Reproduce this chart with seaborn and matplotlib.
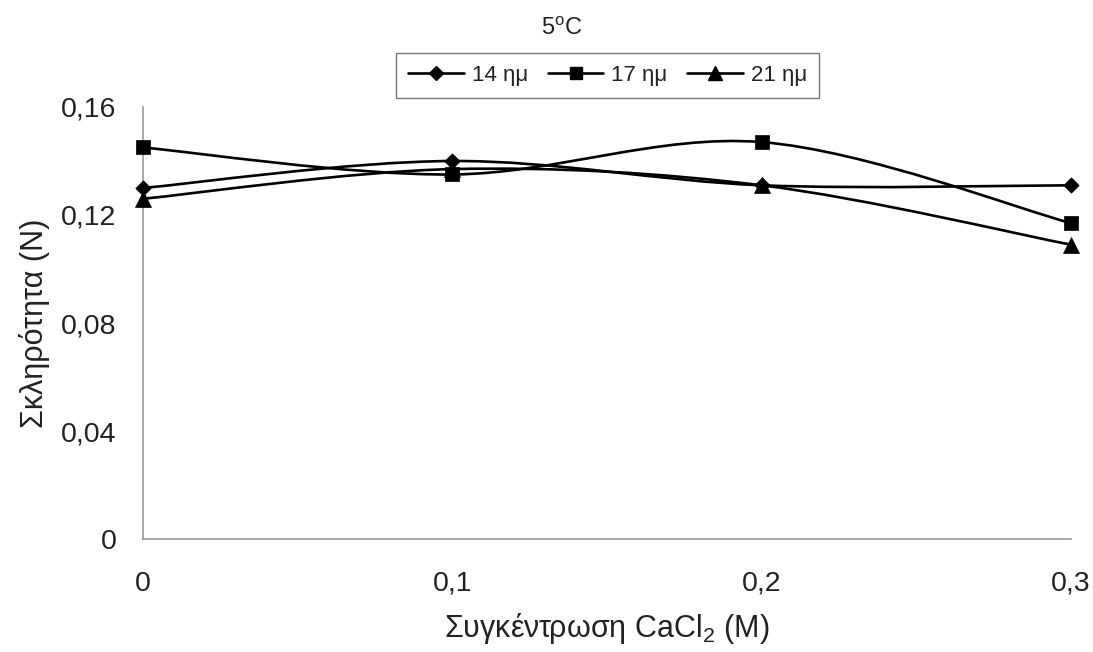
import numpy as np
import pandas as pd
import matplotlib
matplotlib.use("Agg")
import matplotlib.pyplot as plt
from matplotlib.path import Path
from matplotlib.patches import PathPatch
from matplotlib.lines import Line2D
import seaborn as sns

# ---- data ----
concentration = [0.0, 0.1, 0.2, 0.3]
series_names = ["14 ημ", "17 ημ", "21 ημ"]
values_14 = [0.130, 0.140, 0.131, 0.131]
values_17 = [0.145, 0.135, 0.147, 0.117]
values_21 = [0.126, 0.137, 0.131, 0.109]
markers = ["D", "s", "^"]
marker_sizes = [7.8, 10.0, 11.5]

x_ticks = [0.0, 0.1, 0.2, 0.3]
x_tick_labels = ["0", "0,1", "0,2", "0,3"]
y_ticks = [0.0, 0.04, 0.08, 0.12, 0.16]
y_tick_labels = ["0", "0,04", "0,08", "0,12", "0,16"]

title = "5$^{\\mathrm{o}}$C"
x_label = "Συγκέντρωση CaCl$_{2}$ (M)"
y_label = "Σκληρότητα (N)"

df = pd.DataFrame({
    "x": concentration * 3,
    "y": values_14 + values_17 + values_21,
    "series": [s for s in series_names for _ in concentration],
})

sns.set_theme(style="white")
plt.rcParams["font.family"] = ["Liberation Sans", "DejaVu Sans"]
plt.rcParams["mathtext.fontset"] = "custom"
plt.rcParams["mathtext.rm"] = "Liberation Sans"
plt.rcParams["mathtext.it"] = "Liberation Sans"

fig = plt.figure(figsize=(10.93, 6.52), dpi=100)
ax = fig.add_axes([0.1308, 0.1733, 0.849, 0.6626])


def smooth_path(xs, ys):
    """Excel-like smoothed line as cubic Bezier segments through the points."""
    pts = list(zip(xs, ys))
    n = len(pts)
    verts = [pts[0]]
    codes = [Path.MOVETO]
    for i in range(n - 1):
        p0 = pts[i - 1] if i > 0 else pts[i]
        p1 = pts[i]
        p2 = pts[i + 1]
        p3 = pts[i + 2] if i + 2 < n else pts[i + 1]
        c1 = (p1[0] + (p2[0] - p0[0]) / 6, p1[1] + (p2[1] - p0[1]) / 6)
        c2 = (p2[0] - (p3[0] - p1[0]) / 6, p2[1] - (p3[1] - p1[1]) / 6)
        verts += [c1, c2, p2]
        codes += [Path.CURVE4] * 3
    return Path(verts, codes)


for name in series_names:
    sub = df[df["series"] == name]
    ax.add_patch(PathPatch(smooth_path(sub["x"].tolist(), sub["y"].tolist()),
                           facecolor="none", edgecolor="black", lw=1.9,
                           zorder=2, clip_on=False))

for name, m, ms in zip(series_names, markers, marker_sizes):
    sub = df[df["series"] == name]
    sns.scatterplot(data=sub, x="x", y="y", marker=m, s=ms ** 2, color="black",
                    edgecolor="black", linewidth=0.5, ax=ax, zorder=3,
                    clip_on=False, legend=False)

ax.set_xlim(0, 0.3)
ax.set_ylim(0, 0.16)
ax.set_xticks(x_ticks)
ax.set_xticklabels(x_tick_labels)
ax.set_yticks(y_ticks)
ax.set_yticklabels(y_tick_labels)
ax.tick_params(axis="both", labelsize=20.5, colors="#9a9a9a", labelcolor="#222222",
               length=6, width=1, direction="out")
ax.tick_params(axis="x", pad=17)
ax.tick_params(axis="y", pad=13)
for side in ["top", "right"]:
    ax.spines[side].set_visible(False)
for side in ["left", "bottom"]:
    ax.spines[side].set_color("#9a9a9a")
    ax.spines[side].set_linewidth(1.2)

ax.set_xlabel(x_label, fontsize=22, color="#222222", labelpad=10)
ax.set_ylabel(y_label, fontsize=22, color="#222222", labelpad=8)

fig.text(0.514, 0.955, title, ha="center", va="center", fontsize=17, color="#222222")

handles = [Line2D([0], [0], color="black", lw=1.9, marker=m, markersize=ms * 0.85)
           for m, ms in zip(markers, marker_sizes)]
leg = fig.legend(handles, series_names, loc="center", bbox_to_anchor=(0.556, 0.884),
                 ncol=3, frameon=True, fontsize=16, handlelength=2.5,
                 handletextpad=0.35, columnspacing=0.9, borderpad=0.55,
                 fancybox=False, edgecolor="#555555")
leg.get_frame().set_linewidth(1.0)
for t in leg.get_texts():
    t.set_color("#222222")

fig.savefig("out.png", dpi=100)
